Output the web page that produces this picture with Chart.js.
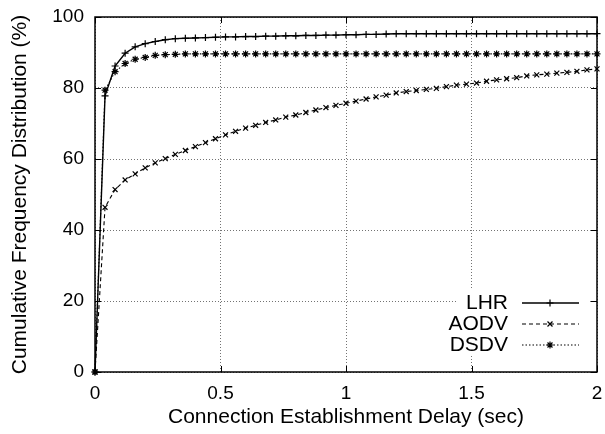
<!DOCTYPE html>
<html><head><meta charset="utf-8">
<script src="https://cdn.jsdelivr.net/npm/chart.js@4/dist/chart.umd.min.js"></script>
<style>html,body{margin:0;padding:0;background:#fff}#wrap{width:605px;height:434px;position:relative}</style>
</head><body><div id="wrap"><canvas id="c" width="605" height="434"></canvas></div>
<script>
const delays=[0,0.04,0.08,0.12,0.16,0.2,0.24,0.28,0.32,0.36,0.4,0.44,0.48,0.52,0.56,0.6,0.64,0.68,0.72,0.76,0.8,0.84,0.88,0.92,0.96,1,1.04,1.08,1.12,1.16,1.2,1.24,1.28,1.32,1.36,1.4,1.44,1.48,1.52,1.56,1.6,1.64,1.68,1.72,1.76,1.8,1.84,1.88,1.92,1.96,2];
const lhr=[0,77.8,86.2,89.8,91.6,92.5,93.1,93.6,93.9,94.0,94.1,94.2,94.3,94.4,94.4,94.5,94.5,94.6,94.6,94.7,94.7,94.8,94.8,94.9,94.9,95.0,95.0,95.1,95.1,95.2,95.3,95.3,95.3,95.3,95.3,95.3,95.3,95.3,95.3,95.3,95.3,95.3,95.3,95.3,95.3,95.3,95.3,95.3,95.3,95.3,95.3];
const aodv=[0,46.4,51.4,54.1,55.8,57.5,58.9,60.1,61.3,62.4,63.5,64.6,65.7,66.8,67.8,68.7,69.5,70.3,71.0,71.8,72.4,73.1,73.8,74.5,75.1,75.7,76.3,76.9,77.5,78.0,78.6,79.0,79.3,79.6,79.9,80.4,80.8,81.1,81.4,81.9,82.3,82.6,82.9,83.4,83.7,83.9,84.2,84.4,84.7,85.1,85.4];
const dsdv=[0,79.4,84.6,86.9,88.1,88.6,89.2,89.4,89.5,89.6,89.6,89.6,89.6,89.6,89.6,89.6,89.6,89.6,89.6,89.6,89.6,89.6,89.6,89.6,89.6,89.6,89.6,89.6,89.6,89.6,89.6,89.6,89.6,89.6,89.6,89.6,89.6,89.6,89.6,89.6,89.6,89.6,89.6,89.6,89.6,89.6,89.6,89.6,89.6,89.6,89.6];
const seriesNames=['LHR','AODV','DSDV'];
const xTicks=[0,0.5,1,1.5,2];
const yTicks=[0,20,40,60,80,100];
const xTitle='Connection Establishment Delay (sec)';
const yTitle='Cumulative Frequency Distribution (%)';

const FONT='"Liberation Sans", Arial, Helvetica, sans-serif';
const styles=[
  {pointStyle:'cross',dash:[],width:1.4},
  {pointStyle:'crossRot',dash:[4,3],width:1.1},
  {pointStyle:'star',dash:[1.5,2],width:1.1}
];
function mk(ys){return delays.map((x,i)=>({x:x,y:ys[i]}));}

function drawMarker(ctx,style,x,y,r){
  ctx.beginPath();
  if(style==='cross'||style==='star'){ctx.moveTo(x-r,y);ctx.lineTo(x+r,y);ctx.moveTo(x,y-r);ctx.lineTo(x,y+r);}
  if(style==='crossRot'||style==='star'){const d=r*0.707;ctx.moveTo(x-d,y-d);ctx.lineTo(x+d,y+d);ctx.moveTo(x-d,y+d);ctx.lineTo(x+d,y-d);}
  ctx.stroke();
}

const framePlugin={
  id:'frame',
  beforeDatasetsDraw(chart){
    const {ctx,chartArea:a}=chart;
    ctx.save();ctx.fillStyle='#fff';
    ctx.fillRect(a.right-140,a.bottom-84,133,68);
    ctx.restore();
  },
  afterDraw(chart){
    const {ctx,chartArea:a}=chart;
    ctx.save();
    ctx.font='21px '+FONT;ctx.fillStyle='#000';ctx.textAlign='right';ctx.textBaseline='middle';
    const rows=[a.bottom-69,a.bottom-48,a.bottom-27];
    chart.data.datasets.forEach((ds,i)=>{
      const y=rows[i];
      ctx.fillText(ds.label,a.right-89,y);
      ctx.strokeStyle='#000';ctx.lineWidth=ds.borderWidth;
      ctx.setLineDash(ds.borderDash||[]);
      ctx.beginPath();ctx.moveTo(a.right-75,y);ctx.lineTo(a.right-18,y);ctx.stroke();
      ctx.setLineDash([]);ctx.lineWidth=1.2;
      drawMarker(ctx,ds.pointStyle,a.right-47,y,3.5);
    });
    ctx.strokeStyle='#000';ctx.lineWidth=1;ctx.setLineDash([]);
    const L=6;
    chart.scales.x.ticks.forEach(t=>{
      const px=Math.round(chart.scales.x.getPixelForValue(t.value))+0.5;
      ctx.beginPath();ctx.moveTo(px,a.bottom);ctx.lineTo(px,a.bottom-L);ctx.moveTo(px,a.top);ctx.lineTo(px,a.top+L);ctx.stroke();
    });
    chart.scales.y.ticks.forEach(t=>{
      const py=Math.round(chart.scales.y.getPixelForValue(t.value))+0.5;
      ctx.beginPath();ctx.moveTo(a.left,py);ctx.lineTo(a.left+L,py);ctx.moveTo(a.right,py);ctx.lineTo(a.right-L,py);ctx.stroke();
    });
    ctx.lineWidth=1.5;
    ctx.strokeRect(a.left,a.top,a.right-a.left,a.bottom-a.top);
    ctx.restore();
  }
};

const datasets=[lhr,aodv,dsdv].map((ys,i)=>({
  label:seriesNames[i],
  data:mk(ys),
  borderColor:'#000',backgroundColor:'#000',
  borderWidth:styles[i].width,
  borderDash:styles[i].dash,
  pointStyle:styles[i].pointStyle,
  pointRadius:3.5,pointBorderWidth:1.2,pointBorderColor:'#000',
  pointHoverRadius:3.5,
  tension:0,clip:8
}));

new Chart(document.getElementById('c'),{
  type:'line',
  data:{datasets:datasets},
  options:{
    responsive:false,animation:false,devicePixelRatio:1,
    layout:{padding:{left:0,right:8,top:17,bottom:0}},
    plugins:{legend:{display:false},tooltip:{enabled:false}},
    scales:{
      x:{type:'linear',min:0,max:2,
        afterBuildTicks(s){s.ticks=xTicks.map(v=>({value:v}));},
        afterFit(s){s.height=62;s.paddingLeft=0;s.paddingRight=0;},
        ticks:{color:'#000',font:{family:FONT,size:19},padding:10,maxRotation:0,callback:v=>String(v)},
        grid:{color:'rgba(0,0,0,0.55)',drawTicks:false,lineWidth:1},
        border:{display:false,dash:[1,2]},
        title:{display:true,text:xTitle,color:'#000',font:{family:FONT,size:21},padding:{top:0,bottom:4}}
      },
      y:{type:'linear',min:0,max:100,
        afterBuildTicks(s){s.ticks=yTicks.map(v=>({value:v}));},
        afterFit(s){s.width=95;s.paddingTop=0;s.paddingBottom=0;},
        ticks:{color:'#000',font:{family:FONT,size:19},padding:11,callback:v=>String(v)},
        grid:{color:'rgba(0,0,0,0.55)',drawTicks:false,lineWidth:1},
        border:{display:false,dash:[1,2]},
        title:{display:true,text:yTitle,color:'#000',font:{family:FONT,size:21},padding:{top:8,bottom:0}}
      }
    }
  },
  plugins:[framePlugin]
});
</script></body></html>
